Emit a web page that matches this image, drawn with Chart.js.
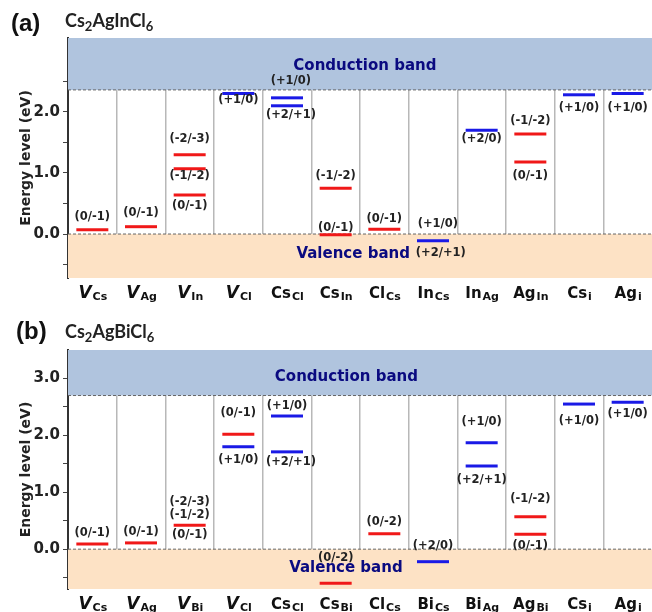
<!DOCTYPE html>
<html>
<head>
<meta charset="utf-8">
<script src="https://cdn.jsdelivr.net/npm/chart.js@4.4.1/dist/chart.umd.min.js"></script>
<style>
  html, body { margin: 0; overflow: hidden; }
  body { width: 652px; height: 612px; position: relative; background: #fff; }
  .box { position: absolute; left: 0; width: 652px; }
  .box canvas { display: block; }
  .tag { position: absolute; font: bold 24px "Liberation Sans", Arial, sans-serif; line-height: 26px; color: #111; }
  .formula { position: absolute; font: bold 18px Lato, "Open Sans", sans-serif; line-height: 22px; color: #222; }
  .formula sub { font-size: 13px; vertical-align: -4px; line-height: 0; }
</style>
</head>
<body>
<div class="box" style="top:0;height:305px"><canvas id="chartA" width="652" height="305"></canvas></div>
<div class="box" style="top:300px;height:312px"><canvas id="chartB" width="652" height="312"></canvas></div>
<div class="tag" style="left:11px;top:10px">(a)</div>
<div class="formula" style="left:65px;top:9px">Cs<sub>2</sub>AgInCl<sub>6</sub></div>
<div class="tag" style="left:16px;top:318px">(b)</div>
<div class="formula" style="left:65px;top:320px">Cs<sub>2</sub>AgBiCl<sub>6</sub></div>

<script>
// ---- panel (a): Cs2AgInCl6 ----
const catsA = ["V_Cs", "V_Ag", "V_In", "V_Cl", "Cs_Cl", "Cs_In", "Cl_Cs", "In_Cs", "In_Ag", "Ag_In", "Cs_i", "Ag_i"];
const cbEdgeA = 2.36;
const yTicksA = [-0.5, 0, 0.5, 1, 1.5, 2, 2.5];
const yLabeledA = [0, 1, 2];
// [category index, level in eV]
const redA = [[0, 0.07], [1, 0.12], [2, 1.30], [2, 1.07], [2, 0.64], [5, 0.75], [5, -0.01], [6, 0.08], [9, 1.64], [9, 1.18]];
const blueA = [[3, 2.30], [4, 2.23], [4, 2.10], [7, -0.11], [8, 1.70], [10, 2.28], [11, 2.30]];
// [category index, eV, text]
const textA = [
  [0, 0.28, "(0/-1)"], [1, 0.34, "(0/-1)"],
  [2, 1.56, "(-2/-3)"], [2, 0.95, "(-1/-2)"], [2, 0.46, "(0/-1)"],
  [3, 2.20, "(+1/0)"],
  [4.08, 2.50, "(+1/0)"], [4.08, 1.95, "(+2/+1)"],
  [5, 0.95, "(-1/-2)"], [5, 0.10, "(0/-1)"],
  [6, 0.25, "(0/-1)"],
  [7.1, 0.16, "(+1/0)"], [7.16, -0.31, "(+2/+1)"],
  [8, 1.56, "(+2/0)"],
  [9, 1.85, "(-1/-2)"], [9, 0.95, "(0/-1)"],
  [10, 2.07, "(+1/0)"], [11, 2.07, "(+1/0)"]
];
const bandTextA = [[5.6, 2.75, "Conduction band"], [5.36, -0.33, "Valence band"]];

// ---- panel (b): Cs2AgBiCl6 ----
const catsB = ["V_Cs", "V_Ag", "V_Bi", "V_Cl", "Cs_Cl", "Cs_Bi", "Cl_Cs", "Bi_Cs", "Bi_Ag", "Ag_Bi", "Cs_i", "Ag_i"];
const cbEdgeB = 2.70;
const yTicksB = [-0.5, 0, 0.5, 1, 1.5, 2, 2.5, 3];
const yLabeledB = [0, 1, 2, 3];
const redB = [[0, 0.09], [1, 0.11], [2, 0.42], [3, 2.02], [5, -0.60], [6, 0.27], [9, 0.57], [9, 0.26]];
const blueB = [[3, 1.80], [4, 2.34], [4, 1.71], [7, -0.22], [8, 1.87], [8, 1.46], [10, 2.55], [11, 2.58]];
const textB = [
  [0, 0.28, "(0/-1)"], [1, 0.30, "(0/-1)"],
  [2, 0.82, "(-2/-3)"], [2, 0.60, "(-1/-2)"], [2, 0.25, "(0/-1)"],
  [3, 2.39, "(0/-1)"], [3, 1.56, "(+1/0)"],
  [4, 2.52, "(+1/0)"], [4.08, 1.53, "(+2/+1)"],
  [5, -0.16, "(0/-2)"],
  [6, 0.47, "(0/-2)"],
  [7, 0.06, "(+2/0)"],
  [8, 2.23, "(+1/0)"], [8, 1.22, "(+2/+1)"],
  [9, 0.88, "(-1/-2)"], [9, 0.06, "(0/-1)"],
  [10, 2.26, "(+1/0)"], [11, 2.37, "(+1/0)"]
];
const bandTextB = [[5.22, 3.03, "Conduction band"], [5.21, -0.33, "Valence band"]];

const FONT = '"DejaVu Sans", sans-serif';

// texts on top of the plot + subscripted category names under it
textPlugin = (cats, texts, bandTexts) => ({
  id: "texts",
  afterDatasetsDraw(chart) {
    const ctx = chart.ctx;
    const x = chart.scales.x, y = chart.scales.y;
    ctx.save();
    ctx.textAlign = "center";
    ctx.textBaseline = "middle";
    ctx.font = "bold 11.5px " + FONT;
    ctx.fillStyle = "#222";
    texts.forEach(t => ctx.fillText(t[2], x.getPixelForValue(t[0]), y.getPixelForValue(t[1])));

    ctx.font = "bold 15px " + FONT;
    ctx.fillStyle = "#0a0a80";
    bandTexts.forEach(t => ctx.fillText(t[2], x.getPixelForValue(t[0]), y.getPixelForValue(t[1])));

    // category labels
    const baseY = chart.chartArea.bottom + 19.5;
    ctx.textAlign = "left";
    ctx.textBaseline = "alphabetic";
    ctx.fillStyle = "#111";
    cats.forEach((name, i) => {
      let parts = name.split("_");
      let bigFont = parts[0] === "V" ? "italic bold 17px " + FONT : "bold 15px " + FONT;
      let subFont = "bold 11px " + FONT;
      ctx.font = bigFont;
      let wb = ctx.measureText(parts[0]).width;
      ctx.font = subFont;
      let ws = ctx.measureText(parts[1]).width;
      let x0 = x.getPixelForValue(i) - (wb + ws) / 2;
      ctx.font = bigFont;
      ctx.fillText(parts[0], x0, baseY);
      ctx.font = subFont;
      ctx.fillText(parts[1], x0 + wb + 1, baseY + 2);
    });
    ctx.restore();
  }
});

levelSet = (pairs, color) => ({
  data: pairs.map(p => ({ x: p[0], y: p[1] })),
  showLine: false,
  pointStyle: "line",
  pointRadius: 16,
  pointHoverRadius: 16,
  pointBorderWidth: 3,
  pointBorderColor: color,
  borderColor: color,
  order: 0
});

makeChart = (id, cats, cbEdge, yMin, yMax, yTicks, yLabeled, red, blue, texts, bandTexts, topPad, bottomSpace) => {
  let edges = cats.map((c, i) => i - 0.5).concat([cats.length - 0.5]);
  let lo = -0.5, hi = cats.length - 0.5;
  return new Chart(document.getElementById(id), {
    type: "line",
    data: {
      datasets: [
        {
          data: [{ x: lo, y: cbEdge }, { x: hi, y: cbEdge }],
          fill: "end",
          backgroundColor: "#b0c4de",
          borderColor: "#666",
          borderWidth: 1,
          borderDash: [3, 2],
          pointRadius: 0,
          order: 5
        },
        {
          data: [{ x: lo, y: 0 }, { x: hi, y: 0 }],
          fill: "start",
          backgroundColor: "#fde2c5",
          borderColor: "#666",
          borderWidth: 1,
          borderDash: [3, 2],
          pointRadius: 0,
          order: 5
        },
        levelSet(red, "#f01818"),
        levelSet(blue, "#1a1ae6")
      ]
    },
    options: {
      responsive: false,
      devicePixelRatio: 1,
      animation: false,
      events: [],
      layout: { autoPadding: false, padding: { top: topPad, left: 0, right: 0, bottom: 0 } },
      plugins: { legend: { display: false }, tooltip: { enabled: false } },
      scales: {
        x: {
          type: "linear",
          min: lo,
          max: hi,
          afterBuildTicks: s => { s.ticks = edges.map(v => ({ value: v })); },
          afterFit: s => { s.height = bottomSpace; },
          ticks: { display: false },
          grid: {
            drawTicks: false,
            lineWidth: 1.5,
            color: c => (c.tick && (c.tick.value === lo || c.tick.value === hi)) ? "rgba(0,0,0,0)" : "#b8b8b8"
          },
          border: { display: false }
        },
        y: {
          min: yMin,
          max: yMax,
          afterBuildTicks: s => { s.ticks = yTicks.map(v => ({ value: v })); },
          afterFit: s => { s.width = 68; },
          ticks: {
            autoSkip: false,
            padding: 3,
            color: "#222",
            font: { family: FONT, size: 15, weight: "bold" },
            callback: v => yLabeled.includes(v) ? v.toFixed(1) : ""
          },
          grid: { drawOnChartArea: false, tickLength: 5, color: "#444", lineWidth: 1 },
          border: { color: "#333", width: 2 },
          title: {
            display: true,
            text: "Energy level (eV)",
            color: "#222",
            font: { family: FONT, size: 14, weight: "bold" },
            padding: { top: 18, bottom: 0 }
          }
        }
      }
    },
    plugins: [textPlugin(cats, texts, bandTexts)]
  });
};

makeChart("chartA", catsA, cbEdgeA, -0.72, 3.21, yTicksA, yLabeledA, redA, blueA, textA, bandTextA, 38, 27);
makeChart("chartB", catsB, cbEdgeB, -0.70, 3.50, yTicksB, yLabeledB, redB, blueB, textB, bandTextB, 50, 23);
</script>
</body>
</html>
